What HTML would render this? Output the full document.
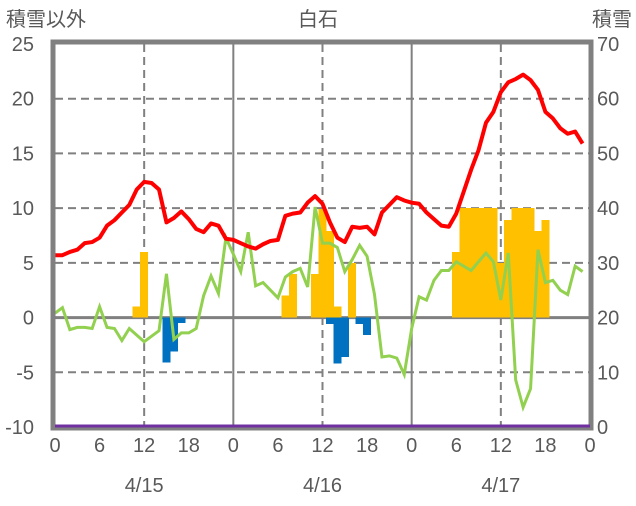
<!DOCTYPE html>
<html><head><meta charset="utf-8"><style>
body{margin:0;background:#fff;}
svg text{font-family:"Liberation Sans","Noto Sans CJK JP",sans-serif;fill:#595959;}
</style></head><body>
<svg id="c" width="636" height="501" viewBox="0 0 636 501" xmlns="http://www.w3.org/2000/svg">
<text x="6" y="26" font-size="20">積雪以外</text>
<text x="318" y="26" font-size="20" text-anchor="middle">白石</text>
<text x="632" y="26" font-size="20" text-anchor="end">積雪</text>
<g id="grid"></g><g id="bars" shape-rendering="crispEdges"></g><g id="lines"></g><g id="frame"></g><g id="labels"></g>
</svg>
<script>
const temp=[5.7,5.7,6.0,6.2,6.8,6.9,7.3,8.4,8.9,9.6,10.3,11.7,12.4,12.3,11.7,8.7,9.1,9.7,9.0,8.1,7.8,8.6,8.4,7.2,
7.1,6.8,6.5,6.3,6.7,7.0,7.1,9.3,9.5,9.6,10.5,11.1,10.4,8.7,7.3,6.9,8.3,8.2,8.3,7.6,9.6,10.3,11.0,10.7,
10.5,10.4,9.6,9.0,8.4,8.3,9.5,11.5,13.5,15.3,17.8,18.8,20.6,21.5,21.8,22.2,21.7,20.8,18.8,18.2,17.3,16.8,17.0,15.9];
const other=[0.4,0.9,-1.1,-0.9,-0.9,-1.0,1.0,-0.9,-1.0,-2.1,-1.0,-1.6,-2.2,-1.7,-1.2,4.0,-2.0,-1.4,-1.4,-1.0,2.0,3.8,2.2,7.3,
5.8,4.2,7.8,2.9,3.2,2.5,1.8,3.7,4.2,4.5,2.8,10.1,6.8,6.8,6.4,4.2,5.3,6.6,5.6,2.1,-3.6,-3.5,-3.7,-5.2,
-1.0,1.9,1.6,3.4,4.3,4.3,5.1,4.7,4.3,5.1,5.9,5.1,1.6,5.9,-5.7,-8.2,-6.5,6.2,3.2,3.4,2.5,2.1,4.7,4.2];
const snowfallHours=[11,12,31,32,35,36,37,38,40,54,55,56,57,58,59,60,61,62,63,64,65,66];
const snowfallVals=[1,6,2,4,4,9.9,7.9,1,5,6,10,10,10,10,10,5,8.9,10,10,10,7.9,8.9];
const meltHours=[15,16,17,37,38,39,41,42];
const meltVals=[-4.1,-3.1,-0.5,-0.6,-4.2,-3.6,-0.6,-1.6];
const snowDepth=new Array(72).fill(0);
const leftTicks=[25,20,15,10,5,0,-5,-10];
const rightTicks=[70,60,50,40,30,20,10,0];
const hourTicks=["0","6","12","18","0","6","12","18","0","6","12","18","0"];
const dates=["4/15","4/16","4/17"];

const X0=55,X1=590,Y0=44,Y1=427;
const x=h=>X0+h*(X1-X0)/72;
const y=v=>Y1-(v+10)*(Y1-Y0)/35;
const yr=v=>Y1-v*(Y1-Y0)/70;
const NS="http://www.w3.org/2000/svg";
function mk(p,t,a){const e=document.createElementNS(NS,t);for(const k in a)e.setAttribute(k,a[k]);document.getElementById(p).appendChild(e);return e;}

leftTicks.forEach(v=>{
  if(v>-10&&v<25&&v!==0){const e=mk('grid','line',{x1:X0,x2:X1,y1:y(v),y2:y(v),stroke:'#808080','stroke-width':2,'stroke-dasharray':'8,5'});
  }
  const t=mk('labels','text',{x:34,y:y(v)+7,'font-size':20,'text-anchor':'end'});t.textContent=v;
  
});
rightTicks.forEach(v=>{const t=mk('labels','text',{x:597,y:yr(v)+7,'font-size':20});t.textContent=v;
  });
hourTicks.forEach((s,i)=>{const t=mk('labels','text',{x:x(i*6),y:452,'font-size':20,'text-anchor':'middle'});t.textContent=s;
  });
dates.forEach((s,i)=>{const t=mk('labels','text',{x:x(i*24+12),y:492,'font-size':20,'text-anchor':'middle'});t.textContent=s;
  });
[12,36,60].forEach(h=>{const e=mk('grid','line',{x1:x(h),x2:x(h),y1:Y0,y2:Y1,stroke:'#808080','stroke-width':2,'stroke-dasharray':'8,5'});
  });
[24,48].forEach(h=>{const e=mk('grid','line',{x1:x(h),x2:x(h),y1:Y0,y2:Y1,stroke:'#808080','stroke-width':2});
  });

const bw=(X1-X0)/72;
snowfallHours.forEach((h,i)=>{const v=snowfallVals[i];
  const e=mk('bars','rect',{x:x(h)-bw/2-0.3,y:y(v),width:bw+0.6,height:y(0)-y(v),fill:'#FFC000'});
  });
meltHours.forEach((h,i)=>{const v=meltVals[i];
  const e=mk('bars','rect',{x:x(h)-bw/2-0.3,y:y(0),width:bw+0.6,height:y(v)-y(0),fill:'#0070C0'});
  });

const z=mk('grid','line',{x1:X0,x2:X1,y1:y(0),y2:y(0),stroke:'#808080','stroke-width':3});


const g=mk('lines','polyline',{points:other.map((v,i)=>x(i)+','+y(v)).join(' '),fill:'none',stroke:'#92D050','stroke-width':3});

const r=mk('lines','polyline',{points:temp.map((v,i)=>x(i)+','+y(v)).join(' '),fill:'none',stroke:'#FF0000','stroke-width':4,'stroke-linejoin':'round'});


const f=mk('frame','path',{d:`M${X0-2},${Y1+1} L${X0-2},${Y0-2} L${X1+1},${Y0-2} L${X1+1},${Y1+1} Z`,fill:'none',stroke:'#808080','stroke-width':5});

const p=mk('frame','polyline',{points:snowDepth.map((v,i)=>x(i)+','+(yr(v)-1)).join(' ')+' '+X1+','+(yr(0)-1),fill:'none',stroke:'#7030A0','stroke-width':3});

</script>
</body></html>
